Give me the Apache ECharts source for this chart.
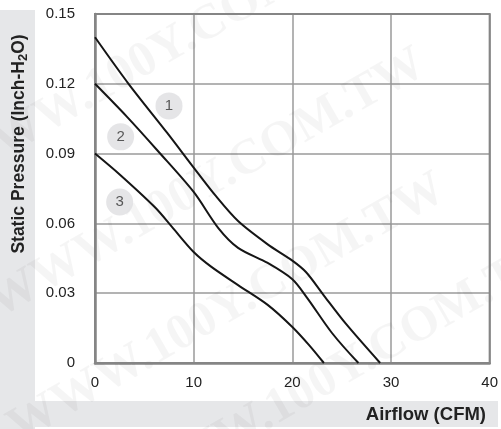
<!DOCTYPE html>
<html>
<head>
<meta charset="utf-8">
<script src="https://cdn.jsdelivr.net/npm/echarts@6/dist/echarts.min.js"></script>
<style>
html,body{margin:0;padding:0;background:#fff;}
#chart{width:501px;height:429px;}
</style>
</head>
<body>
<div id="chart"></div>
<script>
// Airflow (CFM) vs Static Pressure (Inch-H2O)
var curve1 = [[0,0.14],[3.4,0.12],[7.3,0.099],[10,0.084],[12.2,0.072],[14.5,0.061],[17.5,0.051],[20,0.044],[21.4,0.039],[23.2,0.029],[25.4,0.017],[28.9,0]];
var curve2 = [[0,0.12],[3.2,0.106],[6.4,0.091],[10,0.0735],[12.5,0.058],[14.5,0.0495],[17.5,0.043],[20,0.036],[21.5,0.028],[24,0.013],[26.7,0]];
var curve3 = [[0,0.09],[2.5,0.081],[6.1,0.0668],[7.8,0.0585],[10,0.0477],[11.8,0.0413],[14.5,0.0335],[17.5,0.025],[20,0.0155],[21.7,0.0077],[23.2,0]];
var curveLabels = [[7.5,0.1105,'1'],[2.6,0.0972,'2'],[2.5,0.0692,'3']];
var xTicks = [0,10,20,30,40];
var yTicks = [0,0.03,0.06,0.09,0.12,0.15];
var xTitle = 'Airflow (CFM)';
var watermark = 'WWW.100Y.COM.TW';

var chart = echarts.init(document.getElementById('chart'), null, {renderer:'canvas'});
function lineSeries(d){
  return {type:'line', data:d, smooth:0.3, showSymbol:false, symbol:'none',
    lineStyle:{color:'#151515', width:2}, z:5, silent:true};
}
var wm = function(x,y){
  return {type:'text', x:x, y:y, rotation:0.52, z:1, silent:true,
    style:{text:watermark, fill:'rgba(0,0,0,0.04)', font:'bold 50px "Liberation Serif", serif'}};
};
var FONT = '"Liberation Sans", Arial, sans-serif';
chart.setOption({
  animation:false,
  backgroundColor:'#ffffff',
  grid:{left:95, right:5, top:14, bottom:66, show:true, borderColor:'#858585', borderWidth:2, backgroundColor:'transparent', z:3},
  xAxis:{type:'value', min:xTicks[0], max:xTicks[xTicks.length-1], interval:10,
    axisLine:{show:true, lineStyle:{color:'#858585', width:2.5}},
    axisTick:{show:false},
    splitLine:{show:true, lineStyle:{color:'#9a9a9a', width:1.5}},
    axisLabel:{color:'#222', fontSize:15, fontFamily:FONT, margin:12}},
  yAxis:{type:'value', min:yTicks[0], max:yTicks[yTicks.length-1], interval:0.03,
    axisLine:{show:true, lineStyle:{color:'#858585', width:2.5}},
    axisTick:{show:false},
    splitLine:{show:true, lineStyle:{color:'#9a9a9a', width:1.5}},
    axisLabel:{color:'#222', fontSize:15, fontFamily:FONT, margin:20,
      formatter:function(v){ return Math.abs(v)<1e-9 ? '0' : v.toFixed(2); }}},
  graphic:[
    {type:'rect', shape:{x:0, y:10, width:35, height:419}, style:{fill:'#e6e7e9'}, z:0, silent:true},
    {type:'rect', shape:{x:0, y:401, width:498, height:26}, style:{fill:'#e6e7e9'}, z:0, silent:true},
    wm(-60,150), wm(-20,285), wm(0,410), wm(120,470),
    {type:'text', x:19, y:144, rotation:Math.PI/2, z:10, silent:true,
      style:{text:'{a|Static Pressure (Inch-H}{s|2}{a|O)}', align:'center', verticalAlign:'middle',
        rich:{a:{font:'bold 17.5px ' + FONT, fill:'#222'},
              s:{font:'bold 13px ' + FONT, fill:'#222', padding:[8,0,0,0]}}}},
    {type:'text', x:486, y:415, z:10, silent:true,
      style:{text:xTitle, align:'right', verticalAlign:'middle', font:'bold 18.5px ' + FONT, fill:'#222'}}
  ],
  series:[
    lineSeries(curve1), lineSeries(curve2), lineSeries(curve3),
    {type:'scatter', data:curveLabels.map(function(p){return [p[0],p[1],p[2]];}), symbolSize:27, z:4, silent:true,
      itemStyle:{color:'#dedfe1'},
      label:{show:true, position:'inside', formatter:function(p){return p.value[2];}, color:'#333', fontSize:15, fontFamily:FONT}}
  ]
});
</script>
</body>
</html>
